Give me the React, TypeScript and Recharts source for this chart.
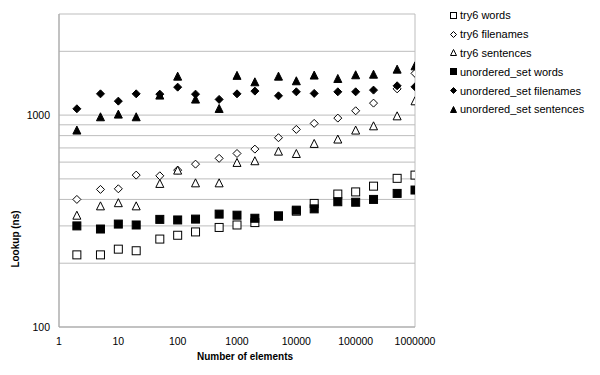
import React from "react";
import {
  CartesianGrid,
  Label,
  Scatter,
  ScatterChart,
  XAxis,
  YAxis,
} from "recharts";

// element counts on the x axis
const SIZES = [2, 5, 10, 20, 50, 100, 200, 500, 1000, 2000, 5000, 10000, 20000, 50000, 100000, 200000, 500000, 1000000];

// lookup times (ns)
const TRY6_WORDS = [219, 219, 233, 229, 260, 271, 281, 295, 303, 311, 334, 352, 383, 424, 434, 462, 503, 521];
const TRY6_FILENAMES = [400, 446, 449, 521, 517, 550, 587, 625, 659, 691, 782, 856, 914, 968, 1048, 1139, 1330, 1574];
const TRY6_SENTENCES = [337, 373, 386, 373, 476, 550, 479, 479, 598, 609, 676, 659, 735, 771, 850, 890, 992, 1168];
const USET_WORDS = [300, 290, 306, 303, 322, 320, 323, 341, 337, 326, 334, 356, 361, 390, 388, 400, 427, 443];
const USET_FILENAMES = [1071, 1260, 1164, 1260, 1256, 1355, 1256, 1186, 1260, 1298, 1233, 1288, 1266, 1288, 1288, 1312, 1375, 1360];
const USET_SENTENCES = [850, 982, 1011, 982, 1243, 1527, 1190, 1075, 1540, 1436, 1527, 1452, 1545, 1489, 1550, 1560, 1648, 1708];

const X_TICKS = [1, 10, 100, 1000, 10000, 100000, 1000000];
const Y_TICKS = [100, 1000];
const Y_GRID = [100, 200, 300, 400, 500, 600, 700, 800, 900, 1000, 2000, 3000];

const FONT = "'Liberation Sans', Arial, sans-serif";

type Kind = "square" | "diamond" | "triangle";

const marker = (kind: Kind, filled: boolean, cx: number, cy: number, s: number) => {
  const fill = filled ? "#000" : "#fff";
  const h = s / 2;
  if (kind === "square")
    return <rect x={cx - h} y={cy - h} width={s} height={s} fill={fill} stroke="#000" strokeWidth={1} />;
  if (kind === "diamond")
    return (
      <path d={`M${cx},${cy - h}L${cx + h},${cy}L${cx},${cy + h}L${cx - h},${cy}Z`} fill={fill} stroke="#000" strokeWidth={1} />
    );
  return (
    <path d={`M${cx},${cy - h}L${cx + h},${cy + h}L${cx - h},${cy + h}Z`} fill={fill} stroke="#000" strokeWidth={1} />
  );
};

const SERIES: { name: string; values: number[]; kind: Kind; filled: boolean }[] = [
  { name: "try6 words", values: TRY6_WORDS, kind: "square", filled: false },
  { name: "try6 filenames", values: TRY6_FILENAMES, kind: "diamond", filled: false },
  { name: "try6 sentences", values: TRY6_SENTENCES, kind: "triangle", filled: false },
  { name: "unordered_set words", values: USET_WORDS, kind: "square", filled: true },
  { name: "unordered_set filenames", values: USET_FILENAMES, kind: "diamond", filled: true },
  { name: "unordered_set sentences", values: USET_SENTENCES, kind: "triangle", filled: true },
];

const LegendBox = () => (
  <div style={{ position: "absolute", left: 449, top: 6, fontFamily: FONT, fontSize: 11, color: "#000" }}>
    {SERIES.map((s) => (
      <div key={s.name} style={{ height: 18.8, display: "flex", alignItems: "center" }}>
        <svg width={9} height={9} style={{ marginRight: 2 }}>
          {marker(s.kind, s.filled, 4.5, 4.5, 6)}
        </svg>
        <span>{s.name}</span>
      </div>
    ))}
  </div>
);

export default function App() {
  return (
    <div style={{ position: "absolute", left: 0, top: 0, width: 600, height: 375, background: "#fff" }}>
      <ScatterChart width={600} height={375} margin={{ top: 14, right: 185, bottom: 0, left: 0 }}>
        <CartesianGrid
          horizontalValues={Y_GRID}
          verticalValues={[1, 1000000]}
          stroke="#bdbdbd"
          strokeWidth={1}
        />
        <XAxis
          type="number"
          dataKey="x"
          scale="log"
          domain={[1, 1000000]}
          ticks={X_TICKS}
          interval={0}
          tickLine={false}
          tickSize={0}
          tickMargin={11}
          height={48}
          axisLine={{ stroke: "#a6a6a6" }}
          tick={{ fontSize: 10.5, fontFamily: FONT, fill: "#000" }}
          allowDataOverflow
        >
          <Label
            value="Number of elements"
            position="insideBottom"
            offset={15}
            dx={8}
            style={{ fontSize: 10, fontWeight: "bold", fontFamily: FONT, fill: "#000" }}
          />
        </XAxis>
        <YAxis
          type="number"
          dataKey="y"
          scale="log"
          domain={[100, 3000]}
          ticks={Y_TICKS}
          interval={0}
          tickLine={false}
          tickSize={0}
          tickMargin={9}
          width={59}
          axisLine={{ stroke: "#a6a6a6" }}
          tick={{ fontSize: 10.5, fontFamily: FONT, fill: "#000" }}
          allowDataOverflow
        >
          <Label
            content={() => (
              <text
                x={19}
                y={239}
                transform="rotate(-90 19 239)"
                textAnchor="middle"
                style={{ fontSize: 10, fontWeight: "bold", fontFamily: FONT, fill: "#000" }}
              >
                Lookup (ns)
              </text>
            )}
          />
        </YAxis>
        {SERIES.map((s) => (
          <Scatter
            key={s.name}
            name={s.name}
            data={SIZES.map((x, i) => ({ x, y: s.values[i] }))}
            isAnimationActive={false}
            shape={(p: any) => marker(s.kind, s.filled, p.cx, p.cy, 8)}
          />
        ))}
      </ScatterChart>
      <LegendBox />
    </div>
  );
}
